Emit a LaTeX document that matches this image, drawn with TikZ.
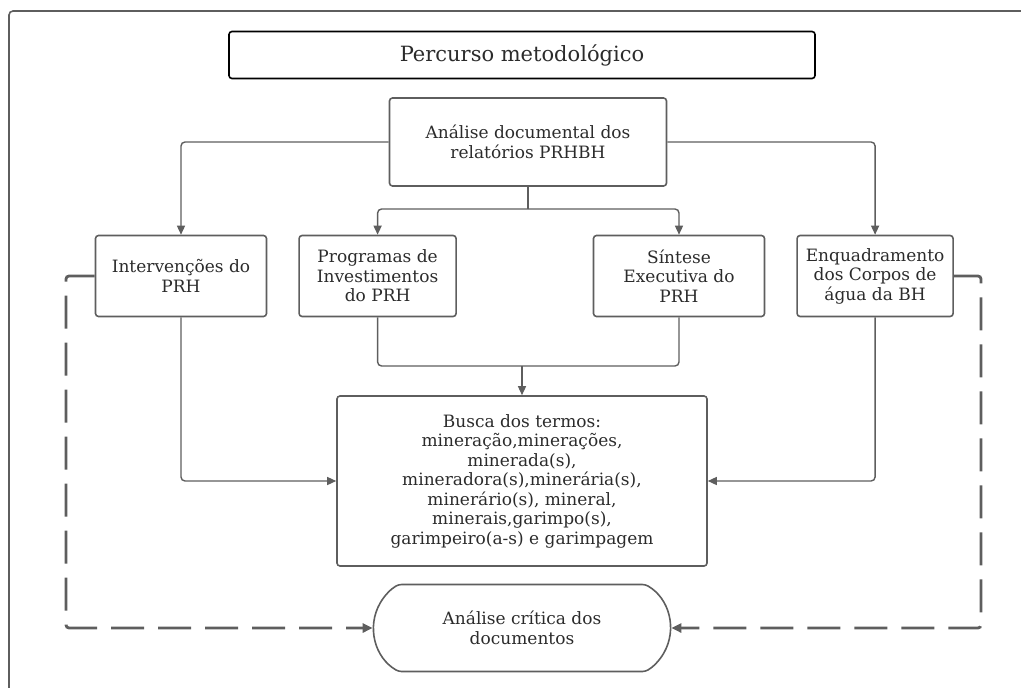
\documentclass[tikz,border=0pt]{standalone}
\usepackage{fontspec}
\setmainfont{DejaVu Serif}
\usetikzlibrary{arrows.meta, positioning, calc, shapes.misc}

\definecolor{linha}{HTML}{5E5E5E}
\definecolor{texto}{HTML}{2B2B2B}

\begin{document}
\begin{tikzpicture}[
        x=1pt, y=-1pt,
        caixa/.style={
            rectangle,
            rounded corners=3pt,
            minimum height=81pt,
            align=center,
            inner sep=2pt,
            text=texto,
            font=\fontsize{17}{19.5}\selectfont,
            draw=linha,
            line width=1.6pt
        },
        seta/.style={
            draw=linha,
            line width=1.4pt,
            rounded corners=4pt,
            -{Triangle[length=9pt, width=8pt]}
        },
        tracejado/.style={
            draw=linha,
            line width=2.8pt,
            dash pattern=on 33pt off 14pt,
            rounded corners=3pt,
            -{Triangle[length=10pt, width=9pt]}
        }
    ]
        \useasboundingbox (0,0) rectangle (1021,688);
        \clip (0,0) rectangle (1021,688);
        \draw[linha, line width=1.6pt, rounded corners=4pt] (9,11) rectangle (1060,720);

        \node[caixa, draw=black, minimum width=586pt, minimum height=47pt,
              font=\fontsize{21}{24}\selectfont] (titulo) at (522,55) {Percurso metodológico};

        \node[caixa, minimum width=277pt, minimum height=88pt] (analise) at (528,142) {
            Análise documental dos\\
            relatórios PRHBH
        };

        \node[caixa, minimum width=171pt] (interv) at (181,276) {
            Intervenções do\\
            PRH
        };
        \node[caixa, minimum width=157pt, right=31pt of interv] (progr) {
            Programas de\\
            Investimentos\\
            do PRH
        };
        \node[caixa, minimum width=171pt] (sintese) at (679,276) {
            Síntese\\
            Executiva do\\
            PRH
        };
        \node[caixa, minimum width=156pt, right=31pt of sintese] (enquad) {
            Enquadramento\\
            dos Corpos de\\
            água da BH
        };

        \node[caixa, minimum width=370pt, minimum height=170pt] (busca) at (522,481) {
            Busca dos termos:\\
            mineração,minerações,\\
            minerada(s),\\
            mineradora(s),minerária(s),\\
            minerário(s), mineral,\\
            minerais,garimpo(s),\\
            garimpeiro(a-s) e garimpagem
        };

        \node[caixa, rounded rectangle, rounded rectangle arc length=120,
              minimum width=301pt, minimum height=87pt] (critica) at (522,628) {
            Análise crítica dos\\
            documentos
        };

        % ligacoes
        \coordinate (bifurca) at (analise.south |- 0,209);
        \coordinate (junta) at (busca.north |- 0,366);
        \draw[seta] (analise.west) -| (interv.north);
        \draw[seta] (analise.east) -| (enquad.north);
        \draw[linha, line width=1.4pt] (analise.south) -- (bifurca);
        \draw[seta] (bifurca) -| (progr.north);
        \draw[seta] (bifurca) -| (sintese.north);
        \draw[linha, line width=1.4pt, rounded corners=4pt] (progr.south) |- (junta) -| (sintese.south);
        \draw[seta] (junta) -- (busca.north);
        \draw[seta] (interv.south) |- (busca.west);
        \draw[seta] (enquad.south) |- (busca.east);

        % retorno tracejado
        \draw[tracejado] (interv.west) -| (66,400) |- (critica.west);
        \draw[tracejado] (enquad.east) -| (981,400) |- (critica.east);
    \end{tikzpicture}
\end{document}
